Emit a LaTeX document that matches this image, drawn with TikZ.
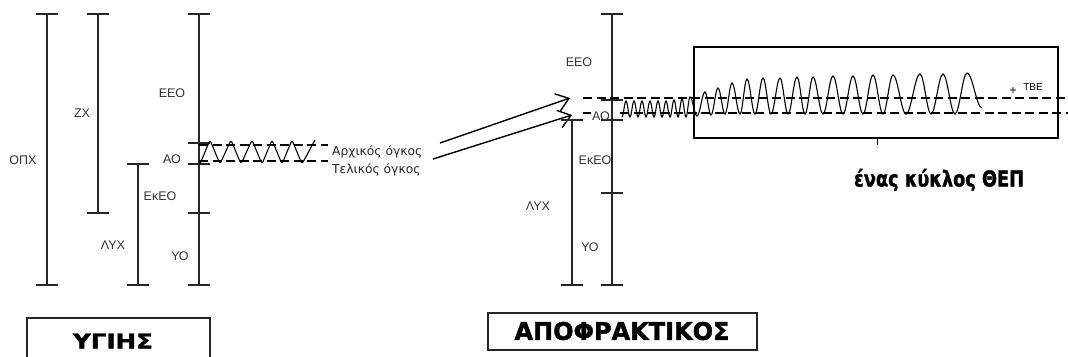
\documentclass[tikz,border=0pt]{standalone}
\usepackage{fontspec}
\setmainfont{Liberation Sans}
\newfontfamily\dvs{DejaVu Sans}
\newfontfamily\heavy{DejaVu Sans}[BoldFeatures={FakeBold=1.6}]
\usetikzlibrary{arrows.meta}
\newcommand\mbar[3]{%
  \draw[barline] (#1,#2)--(#1,#3);
  \draw[barline] (#1-11,#2)--(#1+11,#2);
  \draw[barline] (#1-11,#3)--(#1+11,#3);}
\newcommand\mtick[2]{\draw[barline] (#1-11,#2)--(#1+11,#2);}
\begin{document}
\begin{tikzpicture}[x=1pt,y=-1pt,
  barline/.style={line width=1.2pt,black!85},
  lbl/.style={font=\fontsize{12.5}{14}\selectfont,inner sep=0pt,text=black!80},
  glbl/.style={font=\dvs\fontsize{12.3}{14}\selectfont,inner sep=0pt,anchor=west,text=black!85},
  dashln/.style={line width=1.5pt,dash pattern=on 9pt off 4.5pt},
  wave/.style={line width=1.1pt},
  arr/.style={line width=1.4pt,-{Straight Barb[length=12pt,width=18pt]}},
  frame/.style={line width=1.3pt,black!85},
  bigbox/.style={line width=2pt},
]
\useasboundingbox (0,0) rectangle (1068,356);

% ---------------- healthy (left) ----------------
\mbar{47}{14}{285}
\mbar{98}{14}{213}
\mbar{199}{14}{285}
\mtick{199}{143}
\mtick{199}{164}
\mtick{199}{213}
\mbar{138}{164}{285}

\node[lbl] (opx) at (23,160) {ΟΠΧ};
\node[lbl] (zx) at (82,113) {ΖΧ};
\node[lbl] (eeo1) at (172,93) {ΕΕΟ};
\node[lbl] (ao1) at (172,159) {ΑΟ};
\node[lbl] (ekeo1) at (160,196) {ΕκΕΟ};
\node[lbl] (lyx1) at (113,245) {ΛΥΧ};
\node[lbl] (yo1) at (180,256) {ΥΟ};

\draw[dashln] (199,145)--(328,145);
\draw[dashln] (199,161)--(328,161);
\draw[wave,rounded corners=2.5pt] (200,164)--(210,140)--(220,164)--(231,140)--(241,164)--(252,140)--(262,164)--(272,140)--(282,164)--(292,140)--(302,164)--(315,140);

\node[glbl] (arx) at (332,152) {Αρχικός όγκος};
\node[glbl] (tel) at (332,170) {Τελικός όγκος};

\coordinate (a1s) at (440,143);
\coordinate (a1e) at (570,98);
\coordinate (a2s) at (433,159);
\coordinate (a2e) at (572,115);
\draw[arr] (a1s)--(a1e);
\draw[arr] (a2s)--(a2e);

% ---------------- obstructive (right) ----------------
\mbar{612}{14}{285}
\mtick{612}{100}
\mtick{612}{120}
\mtick{612}{193}
\mbar{572}{120}{285}

\node[lbl] (eeo2) at (579,62) {ΕΕΟ};
\node[lbl] (ao2) at (601,116) {ΑΟ};
\node[lbl] (ekeo2) at (595,160) {ΕκΕΟ};
\node[lbl] (lyx2) at (538,206) {ΛΥΧ};
\node[lbl] (yo2) at (590,247) {ΥΟ};

\draw[dashln] (583,98)--(1068,98);
\draw[dashln] (583,113)--(591,113);
\draw[dashln] (620,113)--(1068,113);

\draw[bigbox] (694,47) rectangle (1058,138);
\draw[line width=1pt] (877,138)--(877,145);

\draw[wave] (622,117)
 \foreach \px/\py/\tx/\ty [remember=\tx as \lx (initially 622), remember=\ty as \ly (initially 117)] in {
  626/101/630/117, 634/101/638/117, 642/101/646/117, 650/101/654/117,
  658/101/662/117, 666/101/670/117, 674/100/678/117, 682/99/686/117,
  690/97/697/116, 705/92/711/115, 718/88/725/114, 732/83/740/114,
  747/79/755/114, 763/78/771/114, 780/78/788/114, 797/77/805/114,
  813/77/823/114, 833/76/843/114, 853/76/863/114, 873/75/883/114,
  893/75/906/114, 920/74/931/114, 943/74/955/114, 967/73/982/108}
 { cos ({(\lx+\px)/2},{(\ly+\py)/2}) sin (\px,\py)
   cos ({(\px+\tx)/2},{(\py+\ty)/2}) sin (\tx,\ty) };

\node[font=\fontsize{12}{12}\selectfont,inner sep=0pt] (plus) at (1013,91) {+};
\node[font=\fontsize{10}{11}\selectfont,inner sep=0pt] (tbe) at (1033,87) {ΤΒΕ};

\node[inner sep=0pt] (cycle) at (939,180) {\resizebox{170pt}{\height}{\heavy\bfseries\fontsize{22}{24}\selectfont ένας κύκλος ΘΕΠ}};

% ---------------- bottom labels ----------------
\draw[frame] (27,358)--(27,318)--(210,318)--(210,358);
\node[inner sep=0pt] (ygis) at (113,341) {\resizebox{80pt}{15pt}{\heavy\bfseries ΥΓΙΗΣ}};
\draw[frame] (488,313) rectangle (757,350);
\node[inner sep=0pt] (apof) at (622,331) {\resizebox{215pt}{18pt}{\heavy\bfseries ΑΠΟΦΡΑΚΤΙΚΟΣ}};
\end{tikzpicture}
\end{document}
